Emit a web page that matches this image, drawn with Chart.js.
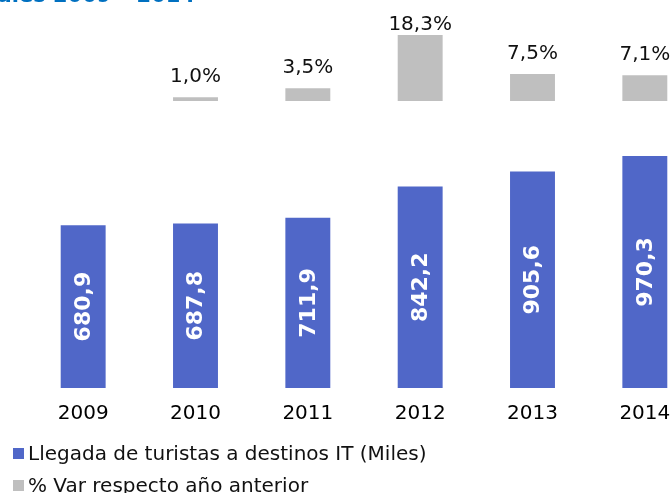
<!DOCTYPE html>
<html><head><meta charset="utf-8">
<script src="https://cdn.jsdelivr.net/npm/chart.js@4"></script>
<style>
html,body{margin:0;padding:0;width:672px;height:493px;overflow:hidden;background:#fff;font-family:"DejaVu Sans",Verdana,sans-serif;}
#title{position:absolute;top:-15px;left:0;white-space:nowrap;font-weight:bold;font-size:21px;line-height:21px;color:#0070C0;}
#wrap{position:absolute;left:0;top:0;}
#legend{position:absolute;left:13px;top:437px;}
.item{display:flex;align-items:center;height:32px;font-size:20px;color:#111;white-space:nowrap;}
.box{width:11px;height:11px;margin-right:4px;flex:none;}
</style></head><body>
<div id="wrap"><canvas id="c" width="712" height="440"></canvas></div>
<div id="title"></div>
<div id="legend"></div>
<script>
const titlePrefix = "Llegada de turistas internacionales ";
const titleTail = "2009 – 2014";
const years = ["2009", "2010", "2011", "2012", "2013", "2014"];
const arrivals = [680.9, 687.8, 711.9, 842.2, 905.6, 970.3];
const pctChange = [null, 1.0, 3.5, 18.3, 7.5, 7.1];
const seriesNames = ["Llegada de turistas a destinos IT (Miles)", "% Var respecto año anterior"];
const seriesColors = ["#5067C8", "#BFBFBF"];

const fmt = v => v.toFixed(1).replace('.', ',');

// title (cut off at the top, as in the reference)
(function () {
  const t = document.getElementById('title');
  t.textContent = titlePrefix + titleTail;
  const ctx = document.createElement('canvas').getContext('2d');
  ctx.font = 'bold 21px "DejaVu Sans"';
  t.style.left = (53 - ctx.measureText(titlePrefix).width) + 'px';
})();

// legend
(function () {
  const lg = document.getElementById('legend');
  seriesNames.forEach((n, i) => {
    const d = document.createElement('div'); d.className = 'item';
    const b = document.createElement('span'); b.className = 'box'; b.style.background = seriesColors[i];
    const s = document.createElement('span'); s.textContent = n;
    d.appendChild(b); d.appendChild(s); lg.appendChild(d);
  });
})();

const labelPlugin = {
  id: 'valueLabels',
  afterDatasetsDraw(chart) {
    const ctx = chart.ctx;
    const m0 = chart.getDatasetMeta(0);
    m0.data.forEach((bar, i) => {
      const v = chart.data.datasets[0].data[i];
      if (v == null) return;
      ctx.save();
      ctx.translate(bar.x + 1, (bar.y + bar.base) / 2);
      ctx.rotate(-Math.PI / 2);
      ctx.font = 'bold 22px "DejaVu Sans"';
      ctx.fillStyle = '#fff';
      ctx.textAlign = 'center';
      ctx.textBaseline = 'middle';
      ctx.fillText(fmt(v), 0, 0);
      ctx.restore();
    });
    const m1 = chart.getDatasetMeta(1);
    m1.data.forEach((bar, i) => {
      const v = chart.data.datasets[1].data[i];
      if (v == null) return;
      ctx.save();
      ctx.font = '20px "DejaVu Sans"';
      ctx.fillStyle = '#111';
      ctx.textAlign = 'center';
      ctx.textBaseline = 'alphabetic';
      const y = Math.max(bar.y - 15, 30);
      ctx.fillText(fmt(v) + '%', bar.x, y);
      ctx.restore();
    });
  }
};

new Chart(document.getElementById('c'), {
  type: 'bar',
  data: {
    labels: years,
    datasets: [
      { label: seriesNames[0], data: arrivals, backgroundColor: seriesColors[0], yAxisID: 'y', grouped: false,
        barPercentage: 0.4, categoryPercentage: 1.0 },
      { label: seriesNames[1], data: pctChange, backgroundColor: seriesColors[1], yAxisID: 'y2', grouped: false,
        barPercentage: 0.4, categoryPercentage: 1.0 }
    ]
  },
  options: {
    responsive: false,
    animation: false,
    devicePixelRatio: 1,
    layout: { padding: { left: 27, right: 11, top: 0, bottom: 0 } },
    plugins: { legend: { display: false }, tooltip: { enabled: false }, title: { display: false } },
    scales: {
      x: {
        grid: { display: false, drawTicks: false },
        border: { display: false },
        ticks: { color: '#000', font: { family: 'DejaVu Sans', size: 20 }, padding: 14, maxRotation: 0, autoSkip: false }
      },
      y: { display: false, min: 0, max: 1622.7 },
      y2: { display: false, min: -79.6, max: 28.0 }
    }
  },
  plugins: [labelPlugin]
});
</script>
</body></html>
